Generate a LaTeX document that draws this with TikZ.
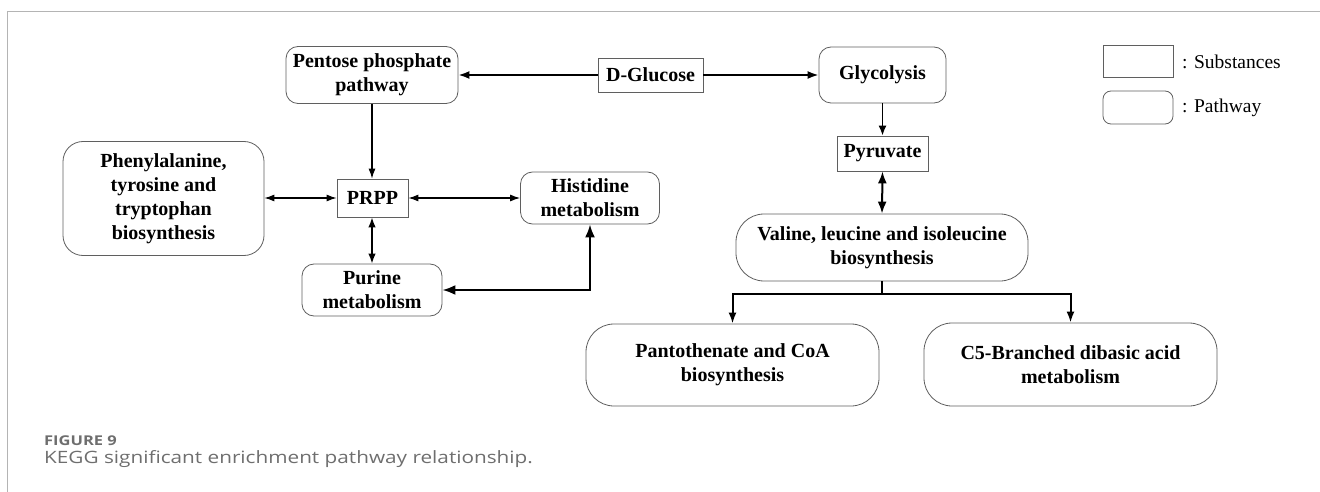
\documentclass[tikz,border=0pt]{standalone}
\usepackage{fontspec}
\setmainfont{Liberation Serif}
\newfontfamily\capfont[FakeStretch=1.22]{Open Sans}
\usetikzlibrary{arrows.meta}
\definecolor{boxgray}{HTML}{5F5F5F}
\definecolor{capgray}{HTML}{6E6E6E}
\definecolor{framegray}{HTML}{B4B4B4}
\begin{document}
\begin{tikzpicture}[x=1pt,y=-1pt,
  sub/.style={draw=boxgray, line width=0.8pt, fill=white, inner sep=0pt, align=center,
    font=\bfseries\fontsize{20}{24}\selectfont},
  pway/.style={sub, rounded corners=12pt},
  bigway/.style={sub, rounded corners=28pt},
  thinarr/.style={line width=1.1pt, -{Latex[length=10pt,width=7pt]}},
  thinboth/.style={line width=1.1pt, {Latex[length=10pt,width=7pt]}-{Latex[length=10pt,width=7pt]}},
  thickarr/.style={line width=2pt, -{Latex[length=11pt,width=8pt]}},
  thickboth/.style={line width=2pt, {Latex[length=12pt,width=9pt]}-{Latex[length=12pt,width=9pt]}},
  legtext/.style={anchor=west, inner sep=0pt, font=\fontsize{19.5}{24}\selectfont}
]
\useasboundingbox (0,0) rectangle (1320,492);
% frame
\draw[framegray, line width=1.4pt] (7.5,492) -- (7.5,11.5) -- (1320,11.5);

% nodes
\node[pway, minimum width=172pt, minimum height=57pt] (pent) at (372,75) {Pentose phosphate\\pathway};
\node[sub, minimum width=105pt, minimum height=34pt] (dglu) at (650.5,75) {D-Glucose};
\node[pway, minimum width=127pt, minimum height=56pt] (glyc) at (882.5,75) {Glycolysis};
\node[sub, minimum width=91pt, minimum height=35pt] (pyr) at (882.5,153.5) {Pyruvate};
\node[sub, rounded corners=20pt, minimum width=201pt, minimum height=114pt] (phen) at (163.5,198.5) {Phenylalanine,\\tyrosine and\\tryptophan\\biosynthesis};
\node[sub, minimum width=71pt, minimum height=38pt] (prpp) at (372.5,198) {PRPP};
\node[pway, minimum width=139pt, minimum height=52pt] (hist) at (590,198) {Histidine\\metabolism};
\node[pway, minimum width=140pt, minimum height=52pt] (pur) at (372,290) {Purine\\metabolism};
\node[bigway, minimum width=292pt, minimum height=67pt] (val) at (882,247.5) {Valine, leucine and isoleucine\\biosynthesis};
\node[bigway, minimum width=293pt, minimum height=82pt] (pant) at (732.5,365) {Pantothenate and CoA\\biosynthesis};
\node[bigway, minimum width=293pt, minimum height=83pt] (c5) at (1070.5,364.5) {C5-Branched dibasic acid\\metabolism};

% legend
\node[sub, minimum width=70pt, minimum height=32pt] (lsub) at (1138,61.5) {};
\node[sub, rounded corners=8pt, minimum width=70pt, minimum height=33pt] (lpath) at (1138,107.5) {};
\node[legtext] (lsubt) at (1182,62) {: Substances};
\node[legtext] (lpatht) at (1182,107.5) {: Pathway};

% connectors
\draw[thickarr] (dglu.west) -- (dglu.west -| pent.east);
\draw[thickarr] (dglu.east) -- (dglu.east -| glyc.west);
\draw[thinarr] (pent.south) -- (prpp.north -| pent.south);
\draw[thinboth] (phen.east |- prpp.west) -- (prpp.west);
\draw[thinboth] (prpp.east) -- (prpp.east -| hist.west);
\draw[line width=1.5pt, {Latex[length=10pt,width=7.5pt]}-{Latex[length=10pt,width=7.5pt]}] (prpp.south -| pur.north) -- (pur.north);
\draw[line width=2.2pt, {Latex[length=13pt,width=10pt]}-{Latex[length=13pt,width=10pt]}] (pur.east) -| (hist.south);
\draw[line width=1.6pt, -{Latex[length=10pt,width=8pt]}] (glyc.south) -- (pyr.north);
\draw[thickboth] (pyr.south) -- (val.north);
\coordinate (br) at (882,294);
\draw[line width=2pt] (val.south) -- (br);
\draw[thickarr] (br) -| (pant.north);
\draw[thickarr] (br) -| (c5.north);

% caption
\node[anchor=base west, inner sep=0pt, text=capgray, font=\capfont\bfseries\fontsize{13.5}{15}\selectfont] (fig) at (44,445) {FIGURE 9};
\node[anchor=base west, inner sep=0pt, text=capgray, font=\capfont\fontsize{17}{19}\selectfont] (cap) at (44,463) {KEGG significant enrichment pathway relationship.};
\end{tikzpicture}
\end{document}
